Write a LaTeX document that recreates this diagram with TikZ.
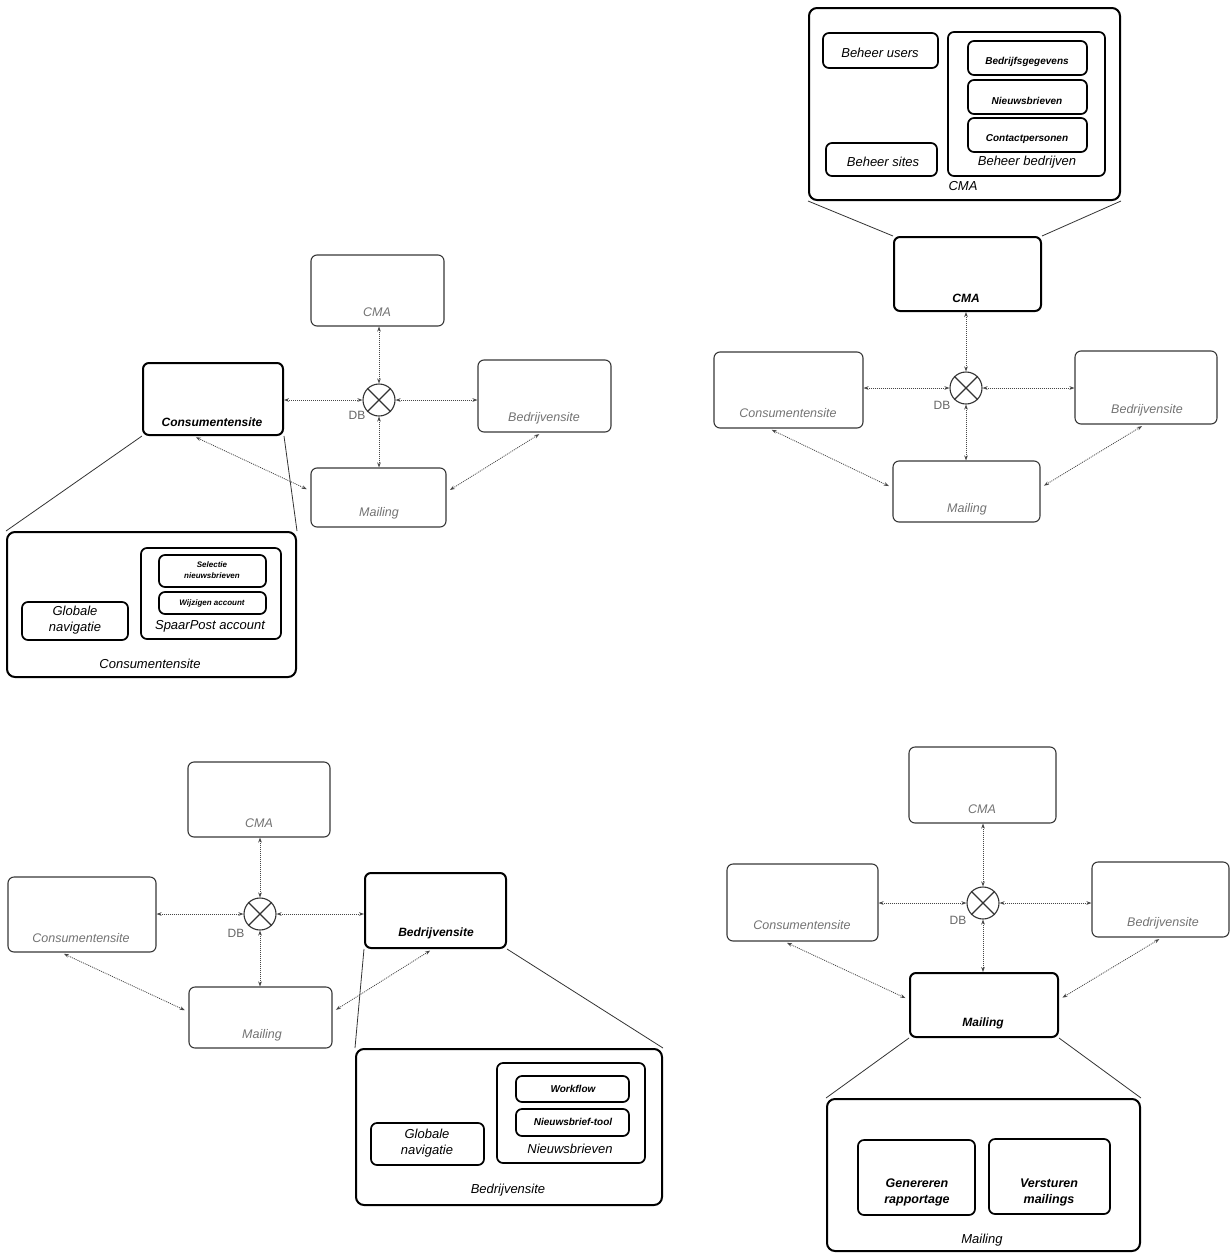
\documentclass[tikz,border=0pt]{standalone}
\usepackage{fontspec}
\setmainfont{Liberation Sans}
\usetikzlibrary{arrows.meta,calc,fit}

\begin{document}
\begin{tikzpicture}[x=1pt,y=-1pt,
  plain/.style={draw=black!78, line width=1.1pt, rounded corners=6pt, inner sep=0pt, fit={#1}},
  hot/.style={draw=black, line width=2pt, rounded corners=6pt, inner sep=0pt, fit={#1}},
  outer/.style={draw=black, line width=2pt, rounded corners=8pt, inner sep=0pt, fit={#1}},
  inner/.style={draw=black, line width=1.7pt, rounded corners=6pt, inner sep=0pt, fit={#1}},
  lightlbl/.style={font=\itshape\fontsize{12.5}{15}\selectfont, text=black!55, inner sep=0pt},
  hotlbl/.style={font=\bfseries\itshape\fontsize{12}{15}\selectfont, text=black, inner sep=0pt},
  detlbl/.style={font=\itshape\fontsize{13}{16}\selectfont, text=black, inner sep=0pt, align=center},
  smalllbl/.style={font=\bfseries\itshape\fontsize{10}{12}\selectfont, text=black, inner sep=0pt, align=center},
  tinylbl/.style={font=\bfseries\itshape\fontsize{8}{11}\selectfont, text=black, inner sep=0pt, align=center},
  midlbl/.style={font=\bfseries\itshape\fontsize{12.5}{16}\selectfont, text=black, inner sep=0pt, align=center},
  dbc/.style={circle, draw=black!80, line width=1.1pt, minimum size=32pt, inner sep=0pt},
  dbx/.style={draw=black!80, line width=1.1pt},
  dblbl/.style={font=\fontsize{12}{14}\selectfont, text=black!60, inner sep=0pt},
  link/.style={draw=black!72, line width=0.8pt, dash pattern=on 1pt off 1pt,
    {Stealth[length=5pt,width=3.6pt]}-{Stealth[length=5pt,width=3.6pt]}},
  slink/.style={link, shorten <=3pt, shorten >=4pt},
  zoomln/.style={draw=black!80, line width=0.8pt}
]
\fill[white] (0,0) rectangle (1231,1253);
\useasboundingbox (0,0) rectangle (1231,1253);

% ---------- Panel: Consumentensite ----------
\node[plain={(311,255)(444,326)}] (cmaA) {};
\node[lightlbl] at (377,312) {CMA};
\node[hot={(143,363)(283,435)}] (consA) {};
\node[hotlbl] at (212,422) {Consumentensite};
\node[plain={(478,360)(611,432)}] (bedrA) {};
\node[lightlbl] at (544,418) {Bedrijvensite};
\node[plain={(311,468)(446,527)}] (mailA) {};
\node[lightlbl] at (379,513) {Mailing};
\node[dbc] (dbA) at (379,400) {};
\draw[dbx] (dbA.north west) -- (dbA.south east) (dbA.north east) -- (dbA.south west);
\node[dblbl] at (357,415) {DB};

\draw[link] (cmaA.south -| dbA) -- (dbA.north);
\draw[link] (consA.east |- dbA) -- (dbA.west);
\draw[link] (dbA.east) -- (bedrA.west |- dbA);
\draw[link] (dbA.south) -- (mailA.north -| dbA);
\draw[slink] ($(consA.south west)!0.36!(consA.south east)$) -- ($(mailA.north west)!0.39!(mailA.south west)$);
\draw[slink] ($(bedrA.south west)!0.48!(bedrA.south east)$) -- ($(mailA.north east)!0.41!(mailA.south east)$);

\node[outer={(7,532)(296,677)}] (detA) {};
\node[detlbl] at (150,664) {Consumentensite};
\node[inner={(22,602)(128,640)}] (navA) {};
\node[detlbl] at (75,620) {Globale\\navigatie};
\node[inner={(141,548)(281,639)}] (spaA) {};
\node[detlbl] at (210,626) {SpaarPost account};
\node[inner={(159,555)(266,587)}] (selA) {};
\node[tinylbl] at (212,570) {Selectie\\nieuwsbrieven};
\node[inner={(159,592)(266,614)}] (wijA) {};
\node[tinylbl] at (212,603) {Wijzigen account};
\draw[zoomln] (consA.south west) -- (detA.north west);
\draw[zoomln] (consA.south east) -- (detA.north east);

% ---------- Panel: CMA ----------
\node[outer={(809,8)(1120,200)}] (detB) {};
\node[detlbl] at (963,186) {CMA};
\node[inner={(823,33)(938,68)}] (usersB) {};
\node[detlbl] at (880,53) {Beheer users};
\node[inner={(826,143)(937,176)}] (sitesB) {};
\node[detlbl] at (883,162) {Beheer sites};
\node[inner={(948,32)(1105,176)}] (bbB) {};
\node[detlbl] at (1027,162) {Beheer bedrijven};
\node[inner={(968,41)(1087,75)}] (bgB) {};
\node[smalllbl] at (1027,62) {Bedrijfsgegevens};
\node[inner={(968,80)(1087,114)}] (nbB) {};
\node[smalllbl] at (1027,101) {Nieuwsbrieven};
\node[inner={(968,118)(1087,152)}] (cpB) {};
\node[smalllbl] at (1027,139) {Contactpersonen};

\node[hot={(894,237)(1041,311)}] (cmaB) {};
\node[hotlbl] at (966,298) {CMA};
\node[plain={(714,352)(863,428)}] (consB) {};
\node[lightlbl] at (788,413) {Consumentensite};
\node[plain={(1075,351)(1217,424)}] (bedrB) {};
\node[lightlbl] at (1147,410) {Bedrijvensite};
\node[plain={(893,461)(1040,522)}] (mailB) {};
\node[lightlbl] at (967,509) {Mailing};
\node[dbc] (dbB) at (966,388) {};
\draw[dbx] (dbB.north west) -- (dbB.south east) (dbB.north east) -- (dbB.south west);
\node[dblbl] at (942,405) {DB};

\draw[link] (cmaB.south -| dbB) -- (dbB.north);
\draw[link] (consB.east |- dbB) -- (dbB.west);
\draw[link] (dbB.east) -- (bedrB.west |- dbB);
\draw[link] (dbB.south) -- (mailB.north -| dbB);
\draw[slink] ($(consB.south west)!0.37!(consB.south east)$) -- ($(mailB.north west)!0.44!(mailB.south west)$);
\draw[slink] ($(bedrB.south west)!0.49!(bedrB.south east)$) -- ($(mailB.north east)!0.44!(mailB.south east)$);
\draw[zoomln] (detB.south west) -- (cmaB.north west);
\draw[zoomln] (detB.south east) -- (cmaB.north east);

% ---------- Panel: Bedrijvensite ----------
\node[plain={(188,762)(330,837)}] (cmaC) {};
\node[lightlbl] at (259,823) {CMA};
\node[plain={(8,877)(156,952)}] (consC) {};
\node[lightlbl] at (81,938) {Consumentensite};
\node[hot={(365,873)(506,948)}] (bedrC) {};
\node[hotlbl] at (436,933) {Bedrijvensite};
\node[plain={(189,987)(332,1048)}] (mailC) {};
\node[lightlbl] at (262,1035) {Mailing};
\node[dbc] (dbC) at (260,914) {};
\draw[dbx] (dbC.north west) -- (dbC.south east) (dbC.north east) -- (dbC.south west);
\node[dblbl] at (236,933) {DB};

\draw[link] (cmaC.south -| dbC) -- (dbC.north);
\draw[link] (consC.east |- dbC) -- (dbC.west);
\draw[link] (dbC.east) -- (bedrC.west |- dbC);
\draw[link] (dbC.south) -- (mailC.north -| dbC);
\draw[slink] ($(consC.south west)!0.36!(consC.south east)$) -- ($(mailC.north west)!0.41!(mailC.south west)$);
\draw[slink] ($(bedrC.south west)!0.48!(bedrC.south east)$) -- ($(mailC.north east)!0.41!(mailC.south east)$);

\node[outer={(356,1049)(662,1205)}] (detC) {};
\node[detlbl] at (508,1190) {Bedrijvensite};
\node[inner={(371,1123)(484,1165)}] (navC) {};
\node[detlbl] at (427,1143) {Globale\\navigatie};
\node[inner={(497,1063)(645,1163)}] (nbC) {};
\node[detlbl] at (570,1149) {Nieuwsbrieven};
\node[inner={(516,1076)(629,1102)}] (wfC) {};
\node[smalllbl] at (573,1089) {Workflow};
\node[inner={(516,1109)(629,1136)}] (ntC) {};
\node[smalllbl] at (573,1122) {Nieuwsbrief-tool};
\draw[zoomln] (bedrC.south west) -- (detC.north west);
\draw[zoomln] (bedrC.south east) -- (detC.north east);

% ---------- Panel: Mailing ----------
\node[plain={(909,747)(1056,823)}] (cmaD) {};
\node[lightlbl] at (982,809) {CMA};
\node[plain={(727,864)(878,941)}] (consD) {};
\node[lightlbl] at (802,925) {Consumentensite};
\node[plain={(1092,862)(1229,937)}] (bedrD) {};
\node[lightlbl] at (1163,923) {Bedrijvensite};
\node[hot={(910,973)(1058,1037)}] (mailD) {};
\node[hotlbl] at (983,1023) {Mailing};
\node[dbc] (dbD) at (983,903) {};
\draw[dbx] (dbD.north west) -- (dbD.south east) (dbD.north east) -- (dbD.south west);
\node[dblbl] at (958,920) {DB};

\draw[link] (cmaD.south -| dbD) -- (dbD.north);
\draw[link] (consD.east |- dbD) -- (dbD.west);
\draw[link] (dbD.east) -- (bedrD.west |- dbD);
\draw[link] (dbD.south) -- (mailD.north -| dbD);
\draw[slink] ($(consD.south west)!0.38!(consD.south east)$) -- ($(mailD.north west)!0.42!(mailD.south west)$);
\draw[slink] ($(bedrD.south west)!0.51!(bedrD.south east)$) -- ($(mailD.north east)!0.42!(mailD.south east)$);

\node[outer={(827,1099)(1140,1251)}] (detD) {};
\node[detlbl] at (982,1240) {Mailing};
\node[inner={(858,1140)(975,1215)}] (genD) {};
\node[midlbl] at (917,1192) {Genereren\\rapportage};
\node[inner={(989,1139)(1110,1214)}] (verD) {};
\node[midlbl] at (1049,1192) {Versturen\\mailings};
\draw[zoomln] (mailD.south west) -- (detD.north west);
\draw[zoomln] (mailD.south east) -- (detD.north east);
\end{tikzpicture}
\end{document}
